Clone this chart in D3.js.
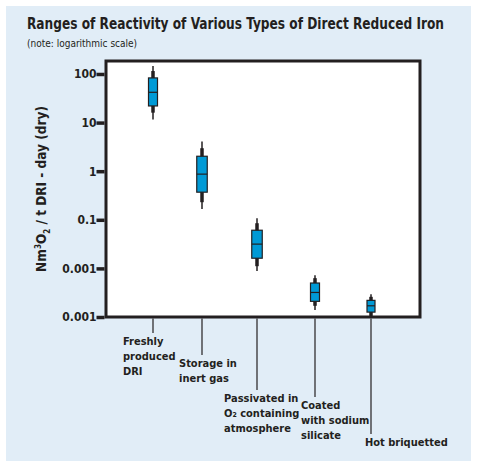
<!DOCTYPE html><html><head><meta charset="utf-8">
<script src="https://cdn.jsdelivr.net/npm/d3@7"></script>
<style>body{margin:0;background:#fff}text{font-family:"DejaVu Sans Condensed","DejaVu Sans",sans-serif}</style></head><body>
<svg id="c" width="480" height="467"></svg>
<script>
const categories=[["Freshly","produced","DRI"],["Storage in","inert gas"],["Passivated in","O₂ containing","atmosphere"],["Coated","with sodium","silicate"],["Hot briquetted"]];
const minVals=[11.6,0.166,0.0088,0.0014,0.00105];
const innerLow=[16,0.23,0.0111,0.0017,0.00105];
const q1=[22,0.37,0.0162,0.0021,0.00126];
const median=[42,0.87,0.0316,0.0032,0.0017];
const q3=[83,2.03,0.061,0.005,0.0022];
const innerHigh=[115,2.97,0.085,0.0063,0.0026];
const maxVals=[146,4.1,0.108,0.0072,0.00295];
const tickValues=[100,10,1,0.1,0.01,0.001];
const tickLabels=["100","10","1","0.1","0.001","0.001"];
const labelDrop=[16,38,73,80,117];
const labelDx=[-30,-23,-33,-14,-6];

const svg=d3.select("#c");
svg.append("rect").attr("x",6).attr("y",6).attr("width",465).attr("height",455).attr("fill","#e1edf7");
svg.append("text").attr("x",27).attr("y",29).attr("font-size",15).attr("font-weight","bold").attr("fill","#231f20").attr("textLength",417).attr("lengthAdjust","spacingAndGlyphs").text("Ranges of Reactivity of Various Types of Direct Reduced Iron");
svg.append("text").attr("x",27).attr("y",47).attr("font-size",10).attr("fill","#231f20").text("(note: logarithmic scale)");
const L=106,R=420,T=61,B=317;
const y=d3.scaleLog().domain([0.001,185]).range([B,T]);
const xs=[153,202,257,315,371];
svg.append("rect").attr("x",L).attr("y",T).attr("width",R-L).attr("height",B-T).attr("fill","#fff").attr("stroke","#231f20").attr("stroke-width",3);
const ax=svg.append("g").attr("transform",`translate(${L-1.5},0)`).call(d3.axisLeft(y).tickValues(tickValues).tickFormat((d,i)=>tickLabels[i]).tickSize(8));
ax.select(".domain").remove();
ax.selectAll("line").attr("stroke","#231f20").attr("stroke-width",3.5);
ax.selectAll("text").attr("font-size",12).attr("font-weight","bold").attr("fill","#231f20").attr("x",-8).attr("font-family","DejaVu Sans Condensed,DejaVu Sans");
svg.append("text").attr("transform","translate(46,189) rotate(-90)").attr("text-anchor","middle").attr("font-size",13.5).attr("font-weight","bold").attr("fill","#231f20")
 .html('Nm<tspan dy="-5" font-size="8">3</tspan><tspan dy="5">O</tspan><tspan dy="4" font-size="8">2</tspan><tspan dy="-4"> / t DRI - day (dry)</tspan>');
const bw=[9,10.5,10.5,9,8];
const g=svg.selectAll(".b").data(d3.range(5)).join("g");
g.append("line").attr("x1",i=>xs[i]).attr("x2",i=>xs[i]).attr("y1",i=>y(maxVals[i])).attr("y2",i=>y(minVals[i])).attr("stroke","#231f20").attr("stroke-width",1.5);
g.append("line").attr("x1",i=>xs[i]).attr("x2",i=>xs[i]).attr("y1",i=>y(innerHigh[i])).attr("y2",i=>y(innerLow[i])).attr("stroke","#231f20").attr("stroke-width",3.5);
g.append("rect").attr("x",i=>xs[i]-bw[i]/2).attr("width",i=>bw[i]).attr("y",i=>y(q3[i])).attr("height",i=>y(q1[i])-y(q3[i])).attr("fill","#009ad6").attr("stroke","#231f20").attr("stroke-width",1.2);
g.append("line").attr("x1",i=>xs[i]-bw[i]/2).attr("x2",i=>xs[i]+bw[i]/2).attr("y1",i=>y(median[i])).attr("y2",i=>y(median[i])).attr("stroke","#231f20").attr("stroke-width",1.2);
g.append("line").attr("x1",i=>xs[i]).attr("x2",i=>xs[i]).attr("y1",B+1.5).attr("y2",i=>B+labelDrop[i]).attr("stroke","#231f20").attr("stroke-width",1.2);
g.each(function(i){
 const t=d3.select(this).append("text").attr("font-size",11).attr("font-weight","bold").attr("fill","#231f20");
 categories[i].forEach((s,k)=>t.append("tspan").attr("x",xs[i]+labelDx[i]).attr("y",B+labelDrop[i]+12+k*15).text(s));
});
</script></body></html>
